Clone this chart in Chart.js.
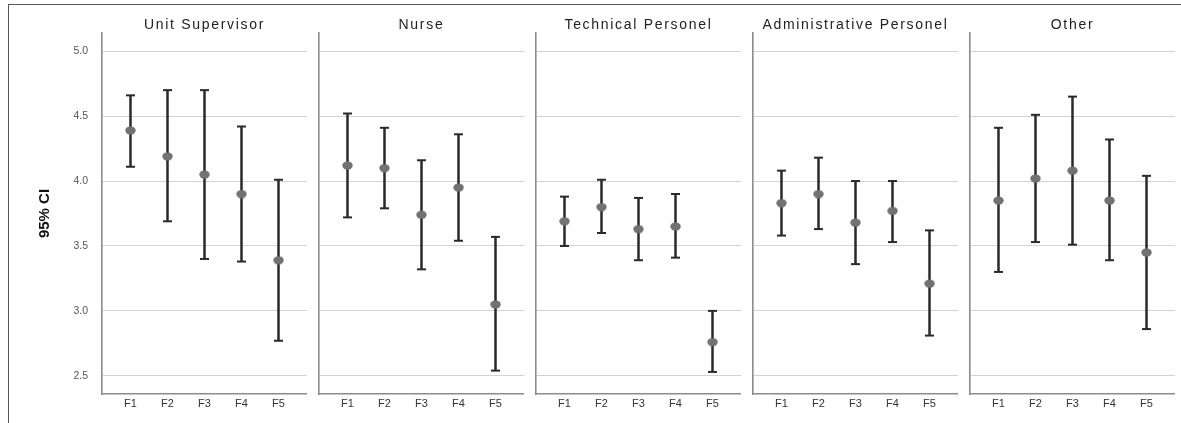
<!DOCTYPE html>
<html>
<head>
<meta charset="utf-8">
<script src="https://cdn.jsdelivr.net/npm/chart.js@4.4.1/dist/chart.umd.min.js"></script>
<style>
  html, body { margin: 0; padding: 0; background: #fff; width: 1181px; height: 423px; overflow: hidden; }
  #frame { position: absolute; left: 8px; top: 4px; width: 1200px; height: 440px;
           border-top: 1px solid #555; border-left: 1px solid #555; }
  .panel { position: absolute; top: 0; }
  .ptitle { position: absolute; top: 16px; width: 205px; text-align: center;
            font: 14px "Liberation Sans", Arial, sans-serif; letter-spacing: 1.7px; color: #222; white-space: nowrap; }
</style>
</head>
<body>
<div id="frame"></div>
<div id="root"></div>
<script>
// Job groups (panels) and factor labels (x categories)
const groups = ['Unit Supervisor', 'Nurse', 'Technical Personel', 'Administrative Personel', 'Other'];
const factors = ['F1', 'F2', 'F3', 'F4', 'F5'];
const yTicks = [2.5, 3.0, 3.5, 4.0, 4.5, 5.0];

// Means and 95% confidence limits per group
const supervisorMean = [4.39, 4.19, 4.05, 3.90, 3.39];
const supervisorLow  = [4.11, 3.69, 3.40, 3.38, 2.77];
const supervisorHigh = [4.66, 4.70, 4.70, 4.42, 4.01];

const nurseMean = [4.12, 4.10, 3.74, 3.95, 3.05];
const nurseLow  = [3.72, 3.79, 3.32, 3.54, 2.54];
const nurseHigh = [4.52, 4.41, 4.16, 4.36, 3.57];

const technicalMean = [3.69, 3.80, 3.63, 3.65, 2.76];
const technicalLow  = [3.50, 3.60, 3.39, 3.41, 2.53];
const technicalHigh = [3.88, 4.01, 3.87, 3.90, 3.00];

const adminMean = [3.83, 3.90, 3.68, 3.77, 3.21];
const adminLow  = [3.58, 3.63, 3.36, 3.53, 2.81];
const adminHigh = [4.08, 4.18, 4.00, 4.00, 3.62];

const otherMean = [3.85, 4.02, 4.08, 3.85, 3.45];
const otherLow  = [3.30, 3.53, 3.51, 3.39, 2.86];
const otherHigh = [4.41, 4.51, 4.65, 4.32, 4.04];

const panelData = [
  [supervisorMean, supervisorLow, supervisorHigh],
  [nurseMean, nurseLow, nurseHigh],
  [technicalMean, technicalLow, technicalHigh],
  [adminMean, adminLow, adminHigh],
  [otherMean, otherLow, otherHigh]
];

// Layout of the panel grid
const AREA_W = 205, STEP = 217, FIRST_LEFT = 102, TOP = 33, H = 423, X_AXIS_H = 29;
const LINE = '#2a2a2a', DOT = '#727272', GRID = '#d2d2d2', AXIS = '#8c8c8c';

// Slightly oval mean marker
function makeDot() {
  const c = document.createElement('canvas');
  c.width = 11; c.height = 9;
  const g = c.getContext('2d');
  g.fillStyle = DOT;
  g.beginPath();
  g.ellipse(5.5, 4.5, 5.2, 4.1, 0, 0, Math.PI * 2);
  g.fill();
  return c;
}
const dotImg = makeDot();

const root = document.getElementById('root');

groups.forEach((name, k) => {
  const [mean, low, high] = panelData[k];
  const areaLeft = FIRST_LEFT + STEP * k;
  const axisW = k === 0 ? 92 : 8;

  const holder = document.createElement('div');
  holder.className = 'panel';
  holder.style.left = (areaLeft - axisW) + 'px';
  holder.style.width = (axisW + AREA_W) + 'px';
  holder.style.height = H + 'px';
  const canvas = document.createElement('canvas');
  canvas.width = axisW + AREA_W;
  canvas.height = H;
  holder.appendChild(canvas);
  root.appendChild(holder);

  const title = document.createElement('div');
  title.className = 'ptitle';
  title.style.left = areaLeft + 'px';
  title.textContent = name;
  root.appendChild(title);

  const whiskers = [];
  factors.forEach((f, i) => {
    whiskers.push({ x: i + 1, y: low[i] }, { x: i + 1, y: high[i] }, { x: i + 1, y: null });
  });
  const caps = [];
  factors.forEach((f, i) => {
    caps.push({ x: i + 1, y: low[i] }, { x: i + 1, y: high[i] });
  });

  new Chart(canvas, {
    type: 'scatter',
    data: {
      datasets: [
        {
          type: 'scatter',
          data: mean.map((m, i) => ({ x: i + 1, y: m })),
          pointStyle: dotImg,
          pointRadius: 5,
          order: 0
        },
        {
          type: 'scatter',
          data: caps,
          pointStyle: 'line',
          pointRadius: 4.5,
          borderColor: LINE,
          pointBorderColor: LINE,
          pointBorderWidth: 2,
          order: 1
        },
        {
          type: 'line',
          data: whiskers,
          borderColor: LINE,
          borderWidth: 2.5,
          pointRadius: 0,
          spanGaps: false,
          fill: false,
          order: 2
        }
      ]
    },
    options: {
      responsive: false,
      animation: false,
      events: [],
      layout: { autoPadding: false, padding: { top: TOP, left: 0, right: 0, bottom: 0 } },
      plugins: { legend: { display: false }, tooltip: { enabled: false }, title: { display: false } },
      scales: {
        x: {
          type: 'linear',
          min: 0.23,
          max: 5.77,
          afterBuildTicks: s => { s.ticks = factors.map((f, i) => ({ value: i + 1 })); },
          afterFit: s => { s.height = X_AXIS_H; s.paddingLeft = 0; s.paddingRight = 0; },
          ticks: {
            callback: v => factors[v - 1],
            color: '#333',
            font: { family: '"Liberation Sans", Arial, sans-serif', size: 11 },
            padding: 3,
            autoSkip: false,
            maxRotation: 0
          },
          grid: { display: false, drawTicks: false },
          border: { display: true, color: AXIS, width: 1.6 }
        },
        y: {
          type: 'linear',
          min: 2.36,
          max: 5.14,
          afterBuildTicks: s => { s.ticks = yTicks.map(v => ({ value: v })); },
          afterFit: s => { s.width = axisW; s.paddingTop = 0; s.paddingBottom = 0; },
          ticks: {
            display: k === 0,
            callback: v => v.toFixed(1),
            color: '#555',
            font: { family: '"Liberation Sans", Arial, sans-serif', size: 10.5 },
            padding: 14
          },
          grid: { color: GRID, lineWidth: 1, drawTicks: false },
          border: { display: true, color: AXIS, width: 1.6 },
          title: {
            display: k === 0,
            text: '95% CI',
            color: '#111',
            font: { family: '"Liberation Sans", Arial, sans-serif', size: 15, weight: 'bold' },
            padding: { top: 26, bottom: 0 }
          }
        }
      }
    }
  });
});
</script>
</body>
</html>
